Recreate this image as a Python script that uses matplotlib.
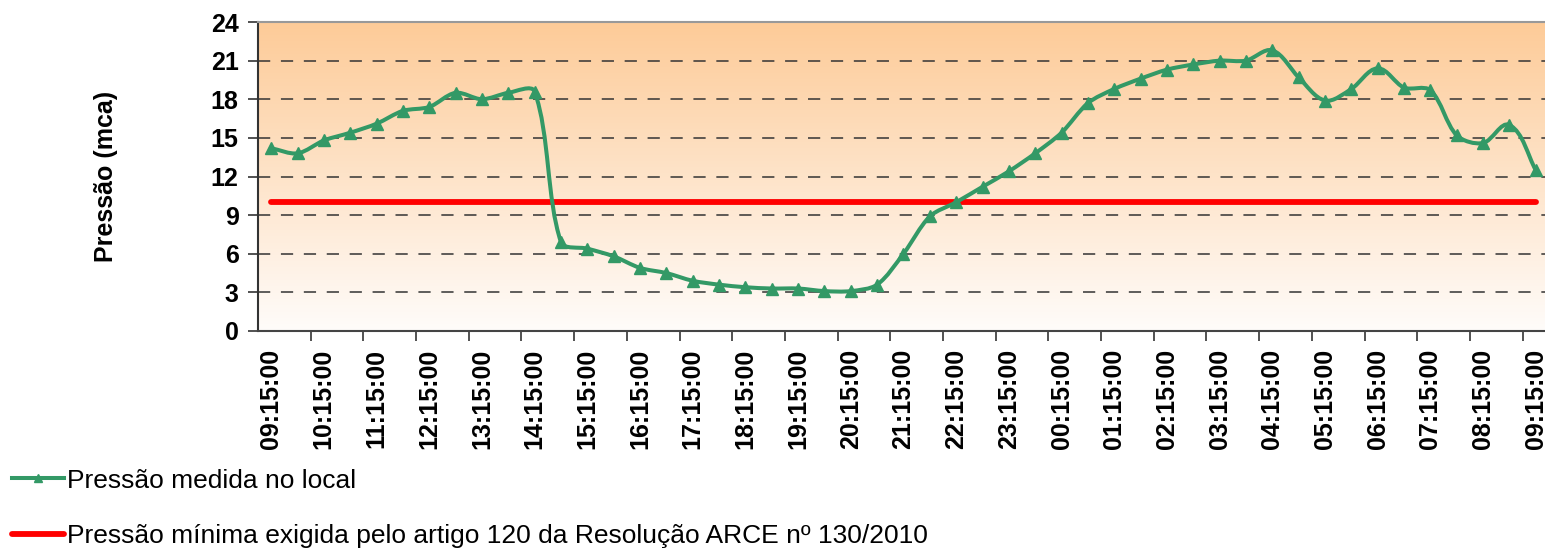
import numpy as np
import matplotlib
matplotlib.use("Agg")
import matplotlib.pyplot as plt
from matplotlib.path import Path
from matplotlib.patches import PathPatch
from matplotlib.lines import Line2D

# --- data (every 30 min, 09:15 -> 09:15 next day) ---
pressao = [14.2, 13.8, 14.8, 15.4, 16.1, 17.1, 17.4, 18.5, 18.0, 18.5,
           18.6, 6.9, 6.4, 5.8, 4.9, 4.5, 3.9, 3.6, 3.4, 3.3,
           3.3, 3.1, 3.1, 3.6, 6.0, 8.9, 10.0, 11.2, 12.4, 13.8,
           15.4, 17.7, 18.8, 19.6, 20.3, 20.7, 21.0, 21.0, 21.8, 19.7,
           17.9, 18.8, 20.4, 18.9, 18.7, 15.2, 14.6, 16.0, 12.5]
pressao_minima = 10.0
hour_labels = ["09:15:00", "10:15:00", "11:15:00", "12:15:00", "13:15:00",
               "14:15:00", "15:15:00", "16:15:00", "17:15:00", "18:15:00",
               "19:15:00", "20:15:00", "21:15:00", "22:15:00", "23:15:00",
               "00:15:00", "01:15:00", "02:15:00", "03:15:00", "04:15:00",
               "05:15:00", "06:15:00", "07:15:00", "08:15:00", "09:15:00"]

green = "#339966"
x = np.arange(len(pressao))

fig = plt.figure(figsize=(15.45, 5.5), dpi=100)
ax = fig.add_axes([258 / 1545, (550 - 331) / 550, 1 - 258 / 1545, (331 - 22) / 550])
ax.set_xlim(-0.5, 48.35)
ax.set_ylim(0, 24)

# gradient background
grad = np.linspace(0, 1, 256).reshape(-1, 1)
top = np.array([253, 203, 152]) / 255
bot = np.array([255, 252, 250]) / 255
img = bot + grad[..., None] * (top - bot)
ax.imshow(img, extent=[-0.5, 48.35, 0, 24], aspect="auto", origin="lower", zorder=0)

# grid
for v in range(3, 24, 3):
    ax.axhline(v, color="#333333", lw=1.1, dashes=(8, 7), zorder=1)

# minimum pressure line
ax.plot([x[0], x[-1]], [pressao_minima, pressao_minima], color="#ff0000", lw=4.2,
        solid_capstyle="round", zorder=2)

# smoothed line (bezier, Excel-like) computed in display space
fig.canvas.draw()
pts = ax.transData.transform(np.column_stack([x, pressao]))
verts = [pts[0]]
codes = [Path.MOVETO]
n = len(pts)
s = 0.3
for i in range(n - 1):
    p0 = pts[max(i - 1, 0)]
    p1 = pts[i]
    p2 = pts[i + 1]
    p3 = pts[min(i + 2, n - 1)]
    seg = np.linalg.norm(p2 - p1)
    t1 = p2 - p0
    t1 = t1 / np.linalg.norm(t1)
    t2 = p3 - p1
    t2 = t2 / np.linalg.norm(t2)
    verts += [p1 + t1 * seg * s, p2 - t2 * seg * s, p2]
    codes += [Path.CURVE4] * 3
verts = ax.transData.inverted().transform(np.array(verts))
ax.add_patch(PathPatch(Path(verts, codes), fill=False, edgecolor=green, lw=2.9,
                       capstyle="round", joinstyle="round", zorder=3))
ax.plot(x, pressao, ls="none", marker="^", ms=9, color=green, zorder=4)

# axes styling
ax.spines["right"].set_visible(False)
ax.spines["top"].set_color("#999999")
ax.spines["top"].set_linewidth(1.5)
ax.spines["left"].set_color("#333333")
ax.spines["left"].set_linewidth(1.5)
ax.spines["bottom"].set_color("#444444")
ax.spines["bottom"].set_linewidth(1.5)

ax.set_yticks(range(0, 25, 3))
ax.tick_params(axis="y", length=7, width=1.2, color="#333333", pad=7,
               labelsize=18, direction="out")
for lab in ax.get_yticklabels():
    lab.set_fontweight("bold")
    lab.set_fontfamily("Liberation Sans")

ax.set_xticks(x[::2])
ax.set_xticklabels(hour_labels, rotation=90, fontsize=18, fontweight="bold",
                   fontfamily="Liberation Sans")
ax.set_xticks(np.arange(1.5, 48, 2), minor=True)
ax.tick_params(axis="x", which="major", length=0, pad=13)
ax.tick_params(axis="x", which="minor", length=7, width=1.2, color="#333333")

ax.set_ylabel("Pressão (mca)", fontsize=18, fontweight="bold",
              fontfamily="Liberation Sans", labelpad=0)
ax.yaxis.set_label_coords(-0.109, 0.5)

handles = [Line2D([], [], color=green, lw=2.9, marker="^", ms=6),
           Line2D([], [], color="#ff0000", lw=4.2, solid_capstyle="round")]
labels = ["Pressão medida no local",
          "Pressão mínima exigida pelo artigo 120 da Resolução ARCE nº 130/2010"]
fig.legend(handles, labels, loc="upper left", bbox_to_anchor=(0.008, 0.148),
           frameon=False, prop={"family": "Liberation Sans", "size": 19},
           handlelength=1.95, handletextpad=0.12, labelspacing=1.2,
           borderaxespad=0, borderpad=0)

plt.savefig("out.png", dpi=100)
plt.close()
